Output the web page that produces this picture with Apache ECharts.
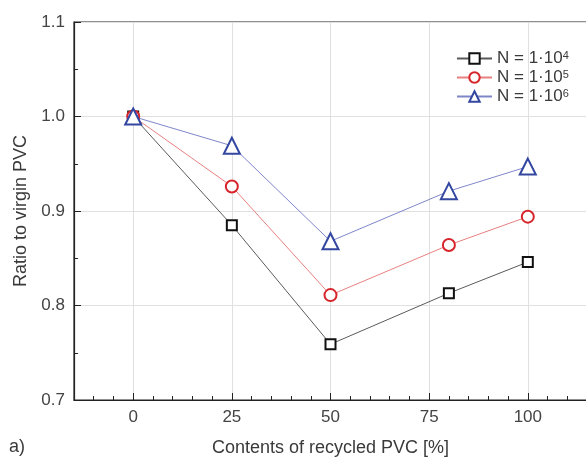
<!DOCTYPE html>
<html><head><meta charset="utf-8">
<script src="https://cdn.jsdelivr.net/npm/echarts@6/dist/echarts.min.js"></script>
<style>html,body{margin:0;padding:0;background:#fff}#c{width:586px;height:457px}</style>
</head><body><div id="c"></div>
<script>
const xValues = [0, 25, 50, 80, 100];
const n4 = [1.000, 0.885, 0.759, 0.813, 0.846];
const n5 = [1.000, 0.926, 0.811, 0.864, 0.894];
const n6 = [1.000, 0.969, 0.868, 0.921, 0.947];
const seriesNames = ['N = 1·10^4', 'N = 1·10^5', 'N = 1·10^6'];
const xMajorTicks = [0, 25, 50, 75, 100];
const xMinorTicks = [-10,-5,5,10,15,20,30,35,40,45,55,60,65,70,80,85,90,95,105,110];

const font = 'Liberation Sans, Arial, sans-serif';
const chart = echarts.init(document.getElementById('c'));
function pts(arr){ return xValues.map((x,i)=>[x, arr[i]]); }
const styles = [
  {name: seriesNames[0], data: n4, symbol: 'rect', size: 10, lc: '#5a5a5a', sc: '#111'},
  {name: seriesNames[1], data: n5, symbol: 'circle', size: 12, lc: '#e88080', sc: '#d7252c'},
  {name: seriesNames[2], data: n6, symbol: 'triangle', size: 16, lc: '#7f86c8', sc: '#3346a0'}
];
chart.setOption({
  animation: false,
  grid: {left: 74, top: 22, right: -1, bottom: 57, outerBoundsMode: 'none', containLabel: false,
         show: true, borderColor: '#222', borderWidth: 1.2, backgroundColor: 'transparent'},
  legend: {
    orient: 'vertical', left: 451, top: 45, itemWidth: 35, itemHeight: 13, itemGap: 0,
    data: seriesNames,
    formatter: function(n){ const p = n.split('^'); return '{a|' + p[0] + '}{s|' + p[1] + '}'; },
    textStyle: {rich: {
      a: {fontFamily: font, fontSize: 17, color: '#3a3a3a', lineHeight: 17},
      s: {fontFamily: font, fontSize: 11, color: '#3a3a3a', verticalAlign: 'top', lineHeight: 17, padding: [0,0,8,0]}
    }}
  },
  xAxis: [{
    type: 'value', min: -15, max: 115,
    name: 'Contents of recycled PVC [%]', nameLocation: 'middle', nameGap: 39,
    nameTextStyle: {fontFamily: font, fontSize: 18, color: '#3a3a3a'},
    axisLine: {show: true, onZero: false, lineStyle: {color: '#222', width: 1.2}},
    axisTick: {show: true, inside: true, length: 7, customValues: xMajorTicks, lineStyle: {color: '#222'}},
    axisLabel: {customValues: xMajorTicks, fontFamily: font, fontSize: 17, color: '#444', margin: 9},
    splitLine: {show: true, lineStyle: {color: '#e0e0e0', width: 1}}
  }, {
    type: 'value', min: -15, max: 115, position: 'bottom',
    axisLine: {show: false, onZero: false},
    axisTick: {show: true, inside: true, length: 4, customValues: xMinorTicks, lineStyle: {color: '#222'}},
    axisLabel: {show: false},
    splitLine: {show: false}
  }],
  yAxis: {
    type: 'value', min: 0.7, max: 1.1, interval: 0.1,
    name: 'Ratio to virgin PVC', nameLocation: 'middle', nameGap: 43,
    nameTextStyle: {fontFamily: font, fontSize: 18, color: '#3a3a3a'},
    axisLine: {show: true, onZero: false, lineStyle: {color: '#222', width: 1.2}},
    axisTick: {show: true, inside: true, length: 7, lineStyle: {color: '#222'}},
    minorTick: {show: true, splitNumber: 2, length: 4, lineStyle: {color: '#222'}},
    axisLabel: {fontFamily: font, fontSize: 17, color: '#444', margin: 9, formatter: v => v.toFixed(1)},
    splitLine: {show: true, lineStyle: {color: '#e0e0e0', width: 1}}
  },
  graphic: [{type: 'text', left: 9, top: 438, style: {text: 'a)', font: '18px ' + font, fill: '#3a3a3a'}}],
  series: styles.map(s => ({
    name: s.name, type: 'line', data: pts(s.data), xAxisIndex: 0,
    symbol: s.symbol, symbolSize: s.size, showAllSymbol: true,
    lineStyle: {color: s.lc, width: 1},
    itemStyle: {color: '#fff', borderColor: s.sc, borderWidth: 2},
    emphasis: {disabled: true}
  }))
});
</script></body></html>
